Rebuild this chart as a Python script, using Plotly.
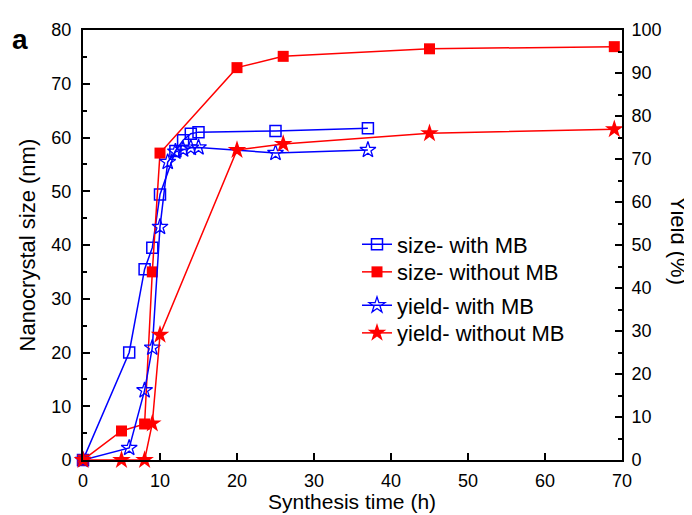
import plotly.graph_objects as go

# Size (nm), with MB
t_size_with = [0, 6, 8, 9, 10, 12, 13, 14, 15, 25, 37]
size_with = [0, 20, 35.5, 39.5, 49.4, 57.5, 59.5, 60.7, 61.0, 61.2, 61.7]

# Size (nm), without MB
t_size_without = [0, 5, 8, 9, 10, 20, 26, 45, 69]
size_without = [0, 5.4, 6.7, 35.0, 57.1, 73.0, 75.1, 76.5, 76.9]

# Yield (%), with MB
t_yield_with = [0, 6, 8, 9, 10, 11, 12, 13, 14, 15, 25, 37]
yield_with = [0, 2.8, 16.2, 26.1, 54.2, 69.3, 71.7, 72.2, 72.6, 72.7, 71.4, 72.1]

# Yield (%), without MB
t_yield_without = [0, 5, 8, 9, 10, 20, 26, 45, 69]
yield_without = [0, 0, 0, 8.5, 29.1, 72.1, 73.5, 76.0, 76.9]

BLUE = "#0000FF"
RED = "#FF0000"
FONT = "Liberation Sans, Arial, Helvetica, sans-serif"

fig = go.Figure()
fig.add_trace(go.Scatter(
    x=t_size_with, y=size_with, name="size- with MB", mode="lines+markers",
    line=dict(color=BLUE, width=1.5),
    marker=dict(symbol="square-open", size=11, color=BLUE, line=dict(width=1.5)),
    cliponaxis=False, legend="legend"))
fig.add_trace(go.Scatter(
    x=t_size_without, y=size_without, name="size- without MB", mode="lines+markers",
    line=dict(color=RED, width=1.5),
    marker=dict(symbol="square", size=11, color=RED),
    cliponaxis=False, legend="legend2"))
fig.add_trace(go.Scatter(
    x=t_yield_with, y=yield_with, name="yield- with MB", mode="lines+markers",
    line=dict(color=BLUE, width=1.5), yaxis="y2",
    marker=dict(symbol="star-open", size=12, color=BLUE, line=dict(width=1.3)),
    cliponaxis=False, legend="legend3"))
fig.add_trace(go.Scatter(
    x=t_yield_without, y=yield_without, name="yield- without MB", mode="lines+markers",
    line=dict(color=RED, width=1.5), yaxis="y2",
    marker=dict(symbol="star", size=14, color=RED),
    cliponaxis=False, legend="legend4"))

# page-pixel layout (body has an 8px margin in the browser)
OFF = 8
W, H = 692 - OFF, 515 - OFF
PL, PR, PT, PB = 83, 622, 23, 460  # plot area in page pixels
L, T = PL - OFF, PT - OFF
R, B = W - (PR - OFF), H - (PB - OFF)
pw, ph = PR - PL, PB - PT

def px2x(p):
    return (p - PL) / pw

def py2y(p):
    return (PB - p) / ph

axis_common = dict(showline=True, linecolor="black", linewidth=2, ticks="inside",
                   tickcolor="black", tickwidth=2, ticklen=7, showgrid=False,
                   zeroline=False, tickfont=dict(family=FONT, size=18, color="black"))

fig.update_layout(
    width=W, height=H,
    margin=dict(l=L, r=R, t=T, b=B),
    paper_bgcolor="white", plot_bgcolor="white",
    font=dict(family=FONT, color="black"),
    xaxis=dict(range=[0, 70], dtick=10, mirror=True, ticklabelstandoff=3, **axis_common),
    yaxis=dict(range=[0, 80], dtick=10, ticklabelstandoff=6,
               minor=dict(dtick=5, ticks="inside", ticklen=4, tickwidth=2, tickcolor="black"),
               **axis_common),
    yaxis2=dict(range=[0, 100], dtick=10, overlaying="y", side="right", ticklabelstandoff=4,
                minor=dict(dtick=5, ticks="inside", ticklen=4, tickwidth=2, tickcolor="black"),
                **axis_common),
    showlegend=True,
)

leg_common = dict(xanchor="left", yanchor="middle", bgcolor="rgba(0,0,0,0)",
                  font=dict(family=FONT, size=22, color="black"))
lx = px2x(357)
fig.update_layout(
    legend=dict(x=lx, y=py2y(241), **leg_common),
    legend2=dict(x=lx, y=py2y(269), **leg_common),
    legend3=dict(x=lx, y=py2y(303), **leg_common),
    legend4=dict(x=lx, y=py2y(331), **leg_common),
)

fig.add_annotation(text="Synthesis time (h)", xref="paper", yref="paper",
                   x=px2x(352), y=py2y(502.5), xanchor="center", yanchor="middle",
                   showarrow=False, font=dict(family=FONT, size=21, color="black"))
fig.add_annotation(text="Nanocrystal size (nm)", xref="paper", yref="paper",
                   x=px2x(27), y=py2y(242), xanchor="center", yanchor="middle",
                   textangle=-90, showarrow=False, font=dict(family=FONT, size=22, color="black"))
fig.add_annotation(text="Yield (%)", xref="paper", yref="paper",
                   x=px2x(678), y=py2y(237), xanchor="center", yanchor="middle",
                   textangle=90, showarrow=False, font=dict(family=FONT, size=22, color="black"))
fig.add_annotation(text="<b>a</b>", xref="paper", yref="paper",
                   x=px2x(20), y=py2y(33), xanchor="center", yanchor="middle",
                   showarrow=False, font=dict(family=FONT, size=28, color="black"))

fig.write_html("out.html")
